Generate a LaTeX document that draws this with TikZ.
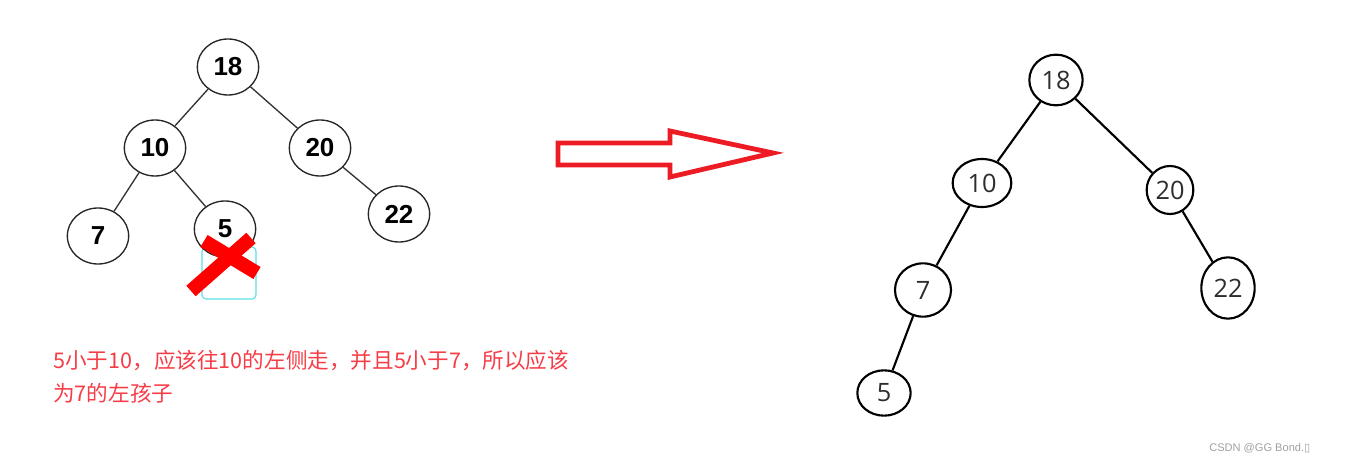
\documentclass[tikz,border=0pt]{standalone}
\usepackage{fontspec}
\usepackage{xcolor}
\usetikzlibrary{shapes.geometric}
\newfontfamily\arialfont{Liberation Sans}
\newfontfamily\segoefont{Open Sans}
\newfontfamily\cjkfont{Noto Sans CJK SC}
\newfontfamily\symfont{DejaVu Sans}
\definecolor{paintred}{RGB}{237,28,36}
\definecolor{notered}{RGB}{246,60,70}
\definecolor{boxcyan}{RGB}{90,225,230}
\definecolor{markgrey}{RGB}{160,160,160}
\definecolor{digitgrey}{RGB}{45,45,45}

\begin{document}
\begin{tikzpicture}[
    x=0.75pt, y=-0.75pt,
    every node/.style={inner sep=0pt},
    oldkey/.style={ellipse, draw=black!85, line width=1pt, fill=white,
        minimum width=46pt, minimum height=42pt,
        font=\arialfont\bfseries\fontsize{19.5}{20}\selectfont},
    newkey/.style={ellipse, draw=black, line width=1.6pt,
        minimum width=40pt, minimum height=38pt, text=digitgrey,
        font=\segoefont\fontsize{19}{20}\selectfont},
    oldlink/.style={draw=black!80, line width=1pt},
    newlink/.style={draw=black, line width=1.6pt}
]
    \useasboundingbox (0,0) rectangle (1347,463);

    % tree before the insert: 5 put to the right of 10
    \draw[boxcyan, line width=0.8pt, rounded corners=3pt] (202,247) rectangle (256,299);
    \node[oldkey] (o18) at (228,67) {18};
    \node[oldkey] (o10) at (155,148) {10};
    \node[oldkey] (o20) at (320,148) {20};
    \node[oldkey] (o7) at (98,236) {7};
    \node[oldkey] (o5) at (225,229) {5};
    \node[oldkey] (o22) at (399,214) {22};

    \path[oldlink]
        (o18) edge (o10)
        (o18) edge (o20)
        (o10) edge (o7)
        (o10) edge (o5)
        (o20) edge (o22);

    % cross over the wrong place
    \draw[red, line width=10.5pt] (191,291) -- (251,238);
    \draw[red, line width=10.5pt] (204,241) -- (257,273);

    \node[anchor=west, align=left, text=notered,
        font=\cjkfont\fontsize{16.2}{24.75}\selectfont] (note) at (53,377)
        {5小于10，应该往10的左侧走，并且5小于7，所以应该\\为7的左孩子};

    % hollow arrow
    \draw[paintred, line width=3.6pt, line join=miter]
        (558,143) -- (670,143) -- (670,131) -- (773,153) -- (670,177)
        -- (670,165) -- (558,165) -- cycle;

    % tree after the insert: 5 as left child of 7
    \node[newkey, minimum width=40pt, minimum height=38pt] (n18) at (1056,80) {18};
    \node[newkey, minimum width=44pt, minimum height=36pt] (n10) at (982,183) {10};
    \node[newkey, minimum width=35pt, minimum height=36pt] (n20) at (1170,190) {20};
    \node[newkey, minimum width=42pt, minimum height=40pt] (n7) at (923,290) {7};
    \node[newkey, minimum width=40pt, minimum height=46pt] (n22) at (1228,288) {22};
    \node[newkey, minimum width=40pt, minimum height=34pt] (n5) at (884,393) {5};

    \path[newlink]
        (n18) edge (n10)
        (n18) edge (n20)
        (n10) edge (n7)
        (n7) edge (n5)
        (n20) edge (n22);

    \node[anchor=west, text=markgrey, font=\arialfont\fontsize{8.3}{10}\selectfont]
        (mark) at (1209,448) {CSDN @GG Bond.{\symfont ▯}};
\end{tikzpicture}
\end{document}
